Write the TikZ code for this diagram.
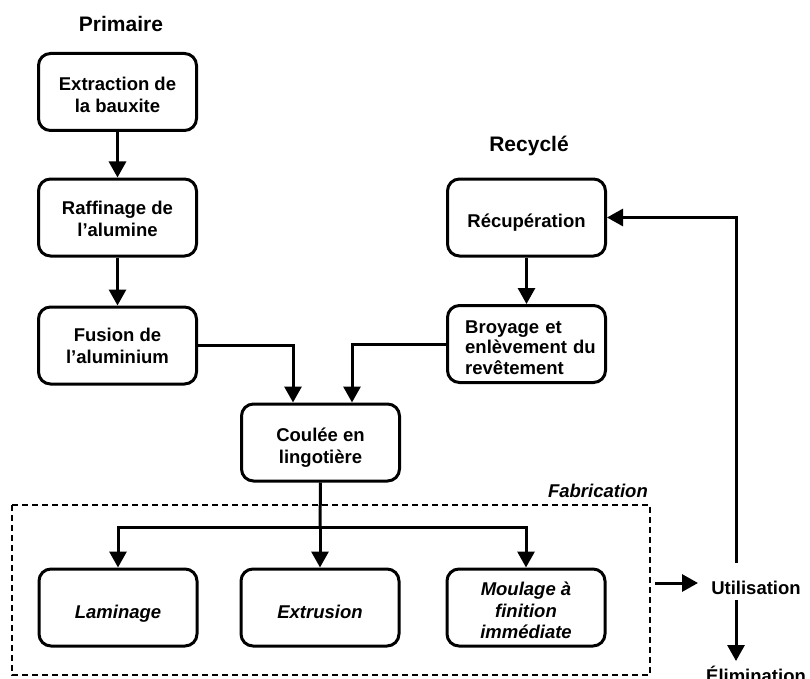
\documentclass[tikz,border=0pt]{standalone}
\usepackage{fontspec}
\setmainfont{Liberation Sans}
\usetikzlibrary{arrows.meta}
\begin{document}
\begin{tikzpicture}[x=1pt,y=-1pt,
  every node/.style={font=\fontsize{18.5}{22}\selectfont\bfseries},
  stage/.style={draw, line width=3pt, rounded corners=12pt,
    minimum width=158pt, minimum height=77pt, inner sep=0pt},
  txt/.style={inner sep=0pt, align=center},
  heading/.style={font=\fontsize{21}{25}\selectfont\bfseries, anchor=base},
  ital/.style={font=\fontsize{18.5}{22}\selectfont\bfseries\itshape},
  flow/.style={line width=3pt, -{Triangle[length=16pt,width=17pt]}},
  plain/.style={line width=3pt},
  frame/.style={line width=1.4pt, dash pattern=on 6pt off 4pt}
]
\useasboundingbox (0,0) rectangle (810,679);
\clip (0,0) rectangle (810,679);

% column headings
\node[heading] (prim) at (121,32) {Primaire};
\node[heading] (recy) at (529,152) {Recyclé};

% primary route: boxes, then their captions
\node[stage] (ext) at (117.5,92)    {};
\node[stage] (raf) at (117.5,217.5) {};
\node[stage] (fus) at (117.5,345.5) {};
\node[txt] (extT) at ([yshift=-2.5pt]ext.center) {Extraction de\\la bauxite};
\node[txt] (rafT) at ([yshift=-1pt]raf.center)   {Raffinage de\\l’alumine};
\node[txt] (fusT) at (fus.center)                {Fusion de\\l’aluminium};

% recycled route
\node[stage] (recup) at (526.5,217.5) {};
\node[stage] (broy)  at (526.5,344)   {};
\node[txt, anchor=base] (recupT) at (526.5,227) {Récupération};
\node[txt, anchor=west, align=left, text width=145pt,
  font=\fontsize{18.5}{20.5}\selectfont\bfseries]
  (broyT) at (465,347.5) {Broyage et\\enlèvement du\\revêtement};

% casting
\node[stage] (coul) at (320.5,442.5) {};
\node[txt] (coulT) at ([yshift=-5pt]coul.center) {Coulée en\\lingotière};

% fabrication group
\draw[frame] (12,505) rectangle (650,675);
\node[ital, anchor=base east, inner sep=0pt] (fab) at (648,497) {Fabrication};
\node[stage] (lam)  at (118,607.5) {};
\node[stage] (extr) at (320,607.5) {};
\node[stage] (moul) at (526,607.5) {};
\node[txt, ital, anchor=base] (lamT)  at (118,618) {Laminage};
\node[txt, ital, anchor=base] (extrT) at (320,618) {Extrusion};
\node[txt, ital, font=\fontsize{18.5}{21.5}\selectfont\bfseries\itshape]
  (moulT) at ([yshift=-3pt]moul.center) {Moulage à\\finition\\immédiate};

% use and end of life
\node[anchor=base] (util) at (756,594) {Utilisation};
\node[anchor=base] (elim) at (756,682) {Élimination};

% connectors, primary route
\draw[flow] (ext) -- (raf);
\draw[flow] (raf) -- (fus);
\draw[flow] (fus.east) -| ([xshift=-27.5pt]coul.north);

% connectors, recycled route
\draw[flow] (recup) -- (broy);
\draw[flow] (broy.west) -| ([xshift=31.5pt]coul.north);

% casting to the fabrication processes
\coordinate (split) at (320,527);
\draw[plain] (coul.south) -- (split);
\draw[flow] (split) -| (lam.north);
\draw[flow] (split) -- (extr.north);
\draw[flow] (split) -| (moul.north);

% products to use, disposal and back to recovery
\coordinate (fabOut) at (655,583);
\coordinate (utilIn) at (698,583);
\draw[flow] (fabOut) -- (utilIn);

\coordinate (loopStart) at (736,563);
\draw[flow] (loopStart) |- (recup.east);

\coordinate (elimOut) at (736,600);
\coordinate (elimIn) at (736,661);
\draw[flow] (elimOut) -- (elimIn);
\end{tikzpicture}
\end{document}
